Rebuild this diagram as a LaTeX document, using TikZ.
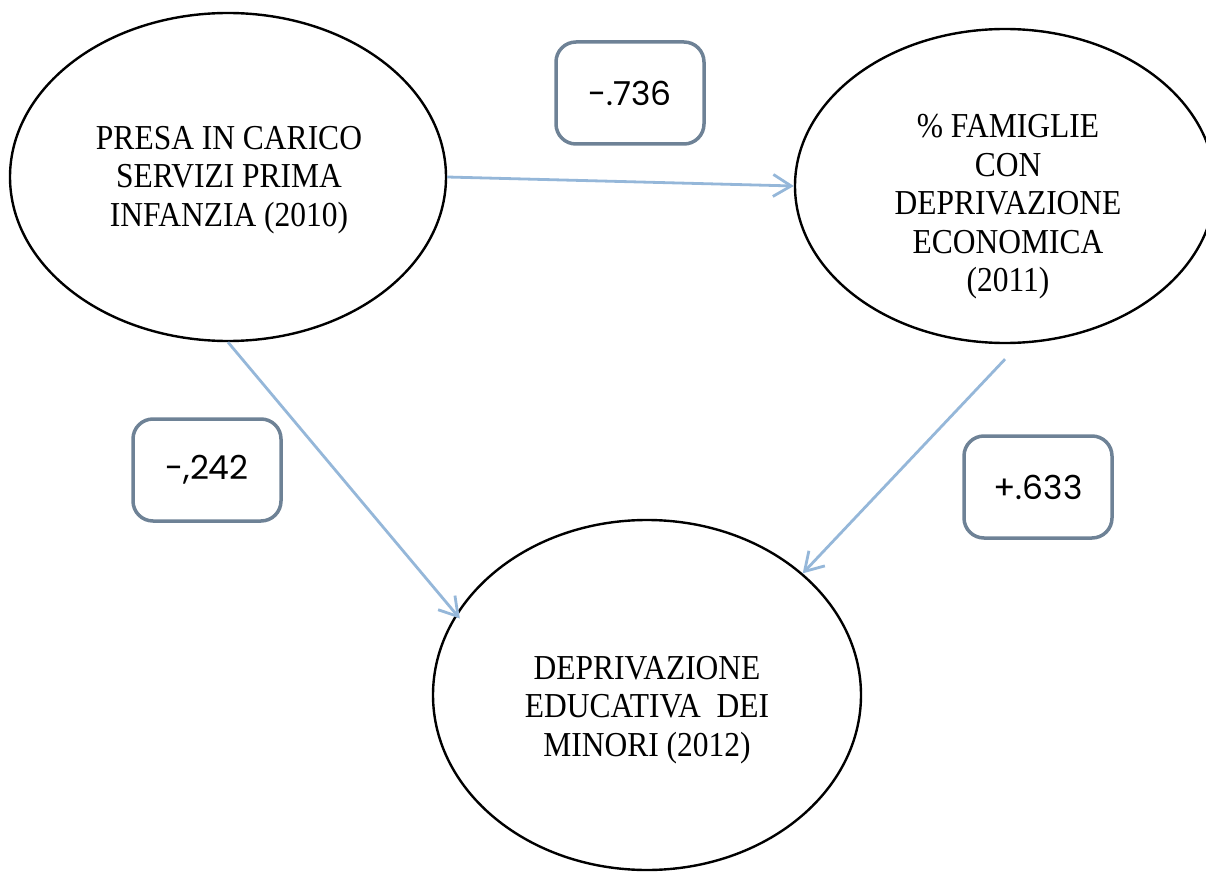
\documentclass[tikz,border=0pt]{standalone}
\usepackage{fontspec}
\setmainfont[FakeStretch=0.9]{Liberation Serif}
\newfontfamily\numfont{Poppins}
\usetikzlibrary{shapes.geometric, arrows.meta}

\definecolor{coefgray}{HTML}{6E8296}
\definecolor{linkblue}{HTML}{95B7D9}

\begin{document}
\begin{tikzpicture}[x=0.5pt, y=-0.5pt,
	var/.style={ellipse, draw, line width=1.2pt, inner sep=0pt},
	txt/.style={align=center, font=\fontsize{17.5}{19.25}\selectfont},
	coef/.style={draw=coefgray, line width=1.75pt, rounded corners=10pt,
		minimum width=74pt, minimum height=51pt, font=\numfont\fontsize{16.5}{18}\selectfont},
	link/.style={draw=linkblue, line width=1.4pt, -{Straight Barb[length=9pt,width=11pt]}}]
	\useasboundingbox (0,0) rectangle (1206,872);
	\clip (0,0) rectangle (1206,872);

	% variables
	\node[var, minimum width=218pt, minimum height=164pt] (presa) at (228,177) {};
	\node[var, minimum width=210pt, minimum height=157pt] (famiglie) at (1005,186) {};
	\node[var, minimum width=214pt, minimum height=175pt] (educ) at (647,695) {};

	\node[txt] (presatxt) at (229,180) {PRESA IN CARICO\\SERVIZI PRIMA\\INFANZIA (2010)};
	\node[txt] (famtxt) at (1008,207) {\% FAMIGLIE\\CON\\DEPRIVAZIONE\\ECONOMICA\\(2011)};
	\node[txt] (eductxt) at (647,710) {DEPRIVAZIONE\\EDUCATIVA\ \ DEI\\MINORI (2012)};

	% coefficients
	\node[coef] (c1) at (630,93) {-.736};
	\node[coef] (c2) at (207,470) {-,242};
	\node[coef] (c3) at (1038,487) {+.633};

	\draw[link] (presa.east) -- (famiglie.west);
	\draw[link, shorten >=-3pt] (presa.south) -- (educ.157);
	\draw[link] ([yshift=-7.5pt]famiglie.south) -- (educ.38);
\end{tikzpicture}
\end{document}
